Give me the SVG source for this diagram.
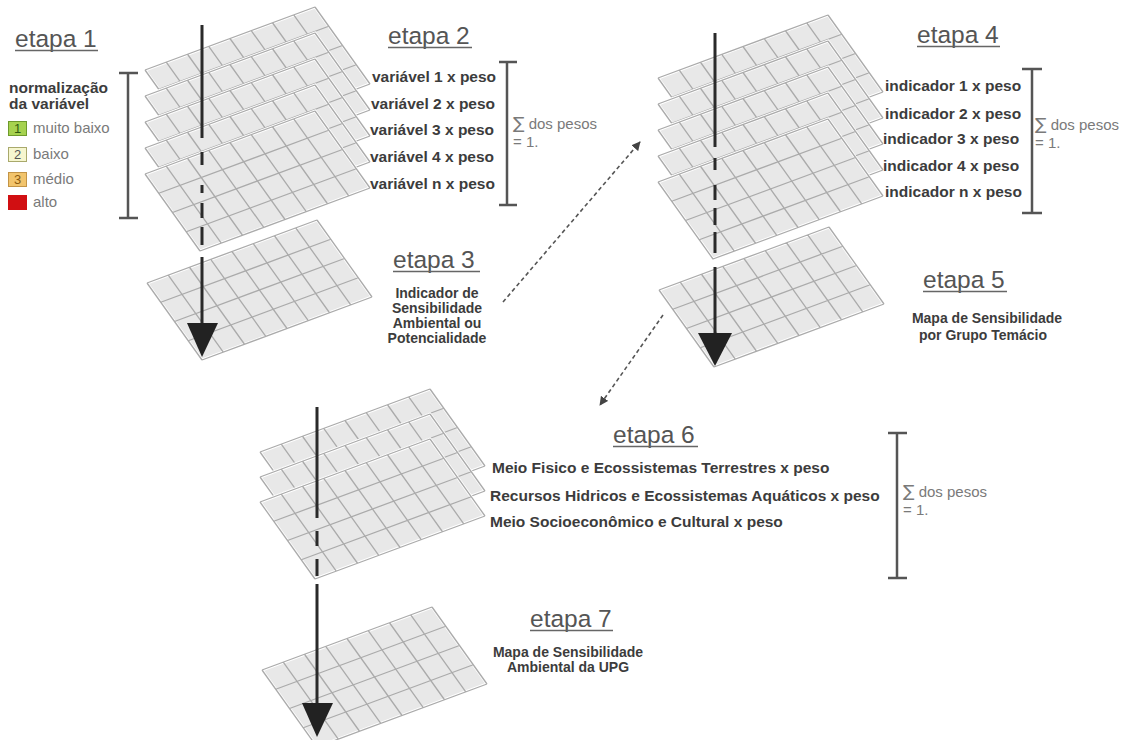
<svg xmlns="http://www.w3.org/2000/svg" width="1137" height="740" viewBox="0 0 1137 740">
<style>
.h{font-family:"Liberation Sans",Arial,sans-serif;font-size:24.5px;fill:#555}
.ul{stroke:#666;stroke-width:1.5}
.b{font-family:"Liberation Sans",Arial,sans-serif;font-size:15.5px;font-weight:bold;fill:#3c3c3c}
.c{font-family:"Liberation Sans",Arial,sans-serif;font-size:14px;font-weight:bold;fill:#3c3c3c;text-anchor:middle}
.r{font-family:"Liberation Sans",Arial,sans-serif;font-size:15px;fill:#7a7a7a}
.sg{font-family:"DejaVu Sans",sans-serif;font-size:17px}
.n{font-family:"Liberation Sans",Arial,sans-serif;font-size:13px;text-anchor:middle}
.br{stroke:#555;stroke-width:2.5;fill:none}
.ax{stroke:#2a2a2a;stroke-width:3;fill:none}
.tip{fill:#222}
.dl{stroke:#555;stroke-width:1.6;stroke-dasharray:4 3;fill:none}
</style>
<defs>
  <!-- one grid sheet: 8 x 4 cells in local units, skewed by each use -->
  <g id="sheet">
    <polygon points="0,0 8,0 8,4 0,4" fill="#e8e8e8" stroke="#fff" stroke-width="3" vector-effect="non-scaling-stroke"/>
    <path d="M0,0H8M0,1H8M0,2H8M0,3H8M0,4H8M0,0V4M1,0V4M2,0V4M3,0V4M4,0V4M5,0V4M6,0V4M7,0V4M8,0V4" fill="none" stroke="#ababab" stroke-width="1.3" vector-effect="non-scaling-stroke"/>
  </g>
  <marker id="ah" viewBox="0 0 10 10" refX="9" refY="5" markerWidth="9" markerHeight="9" markerUnits="userSpaceOnUse" orient="auto">
    <path d="M0,0L10,5L0,10z" fill="#444"/>
  </marker>
</defs>

<!-- etapa 1: legend -->
<g id="etapa1">
  <text class="h" x="15" y="47">etapa 1</text>
  <line class="ul" x1="15" y1="50.5" x2="98" y2="50.5"/>
  <text class="b" x="9" y="93">normalização</text>
  <text class="b" x="9" y="109">da variável</text>
  <rect x="8.5" y="121.5" width="18" height="14" fill="#a6d24f" stroke="#6e9a2c"/>
  <text class="n" x="17.5" y="133" fill="#2f5a10">1</text>
  <text class="r" x="33" y="133">muito baixo</text>
  <rect x="8.5" y="147.5" width="18" height="14" fill="#f6f6cf" stroke="#a9a96c"/>
  <text class="n" x="17.5" y="159" fill="#555">2</text>
  <text class="r" x="33" y="159">baixo</text>
  <rect x="8.5" y="172.5" width="18" height="14" fill="#f2c46c" stroke="#c39446"/>
  <text class="n" x="17.5" y="184" fill="#8a5a10">3</text>
  <text class="r" x="33" y="184">médio</text>
  <rect x="8" y="195" width="19" height="15" fill="#d10f12"/>
  <text class="r" x="33" y="207">alto</text>
  <path class="br" d="M128,73V218M119,73H138M119,218H138"/>
</g>

<!-- etapa 2 and 3: first stack -->
<g id="stack1">
  <use href="#sheet" transform="matrix(21.25,-7.875,13.75,19.25,145,70)"/>
  <use href="#sheet" transform="matrix(21.25,-7.875,13.75,19.25,145,96)"/>
  <use href="#sheet" transform="matrix(21.25,-7.875,13.75,19.25,145,122)"/>
  <use href="#sheet" transform="matrix(21.25,-7.875,13.75,19.25,145,148)"/>
  <use href="#sheet" transform="matrix(21.25,-7.875,13.75,19.25,145,174)"/>
  <use href="#sheet" transform="matrix(21.25,-7.875,13.75,19.25,147,283)"/>
</g>
<g id="etapa2">
  <text class="h" x="388" y="44">etapa 2</text>
  <line class="ul" x1="388" y1="47.5" x2="472" y2="47.5"/>
  <text class="b" x="372" y="82">variável 1 x peso</text>
  <text class="b" x="371" y="109">variável 2 x peso</text>
  <text class="b" x="370" y="135">variável 3 x peso</text>
  <text class="b" x="370" y="162">variável 4 x peso</text>
  <text class="b" x="370" y="189">variável n x peso</text>
  <path class="br" d="M507,62V205M499,62H517M499,205H517"/>
  <text class="r" x="513" y="129"><tspan class="sg">∑</tspan> dos pesos</text>
  <text class="r" x="513" y="147">= 1.</text>
</g>
<g id="etapa3">
  <text class="h" x="393" y="268">etapa 3</text>
  <line class="ul" x1="393" y1="271.5" x2="480" y2="271.5"/>
  <text class="c" x="437" y="298">Indicador de</text>
  <text class="c" x="437" y="313">Sensibilidade</text>
  <text class="c" x="437" y="328">Ambiental ou</text>
  <text class="c" x="437" y="343">Potencialidade</text>
</g>

<!-- etapa 4 and 5: second stack -->
<g id="stack2">
  <use href="#sheet" transform="matrix(21.25,-7.875,13.75,19.25,658,78)"/>
  <use href="#sheet" transform="matrix(21.25,-7.875,13.75,19.25,658,104)"/>
  <use href="#sheet" transform="matrix(21.25,-7.875,13.75,19.25,658,130)"/>
  <use href="#sheet" transform="matrix(21.25,-7.875,13.75,19.25,658,156)"/>
  <use href="#sheet" transform="matrix(21.25,-7.875,13.75,19.25,658,182)"/>
  <use href="#sheet" transform="matrix(21.25,-7.875,13.75,19.25,659,290)"/>
</g>
<g id="etapa4">
  <text class="h" x="917" y="43">etapa 4</text>
  <line class="ul" x1="917" y1="46.5" x2="1000" y2="46.5"/>
  <text class="b" x="885" y="91">indicador 1 x peso</text>
  <text class="b" x="885" y="119">indicador 2 x peso</text>
  <text class="b" x="883" y="144">indicador 3 x peso</text>
  <text class="b" x="883" y="171">indicador 4 x peso</text>
  <text class="b" x="885" y="197">indicador n x peso</text>
  <path class="br" d="M1032,69V213M1022,69H1042M1022,213H1042"/>
  <text class="r" x="1035" y="130"><tspan class="sg">∑</tspan> dos pesos</text>
  <text class="r" x="1035" y="148">= 1.</text>
</g>
<g id="etapa5">
  <text class="h" x="923" y="288">etapa 5</text>
  <line class="ul" x1="923" y1="291.5" x2="1007" y2="291.5"/>
  <text class="c" x="987" y="323">Mapa de Sensibilidade</text>
  <text class="c" x="983" y="340">por Grupo Temácio</text>
</g>

<!-- etapa 6: third stack -->
<g id="stack3">
  <use href="#sheet" transform="matrix(21.25,-7.875,13.75,19.25,260,452)"/>
  <use href="#sheet" transform="matrix(21.25,-7.875,13.75,19.25,260,477)"/>
  <use href="#sheet" transform="matrix(21.25,-7.875,13.75,19.25,260,502)"/>
</g>
<g id="etapa6">
  <text class="h" x="613" y="443">etapa 6</text>
  <line class="ul" x1="613" y1="446.5" x2="698" y2="446.5"/>
  <text class="b" x="492" y="473">Meio Fisico e Ecossistemas Terrestres x peso</text>
  <text class="b" x="490" y="501">Recursos Hidricos e Ecossistemas Aquáticos x peso</text>
  <text class="b" x="490" y="527">Meio Socioeconômico e Cultural x peso</text>
  <path class="br" d="M897,433V578M888,433H907M888,578H907"/>
  <text class="r" x="903" y="497"><tspan class="sg">∑</tspan> dos pesos</text>
  <text class="r" x="903" y="515">= 1.</text>
</g>

<!-- etapa 7: final map -->
<g id="stack4">
  <use href="#sheet" transform="matrix(21.25,-7.875,13.75,19.25,262,670)"/>
</g>
<g id="etapa7">
  <text class="h" x="530" y="627">etapa 7</text>
  <line class="ul" x1="530" y1="630.5" x2="613" y2="630.5"/>
  <text class="c" x="568" y="657">Mapa de Sensibilidade</text>
  <text class="c" x="568" y="672">Ambiental da UPG</text>
</g>

<!-- connectors: vertical arrows through each stack, dotted links between stages -->
<g id="connectors">
  <path class="ax" d="M202,25V138M202,152V165M202,185V193M202,203V218M202,227V245M202,257V325"/>
  <polygon class="tip" points="187,323 218,323 202,357"/>
  <path class="ax" d="M715,33V147M715,158V170M715,185V200M715,208V225M715,232V253M715,267V335"/>
  <polygon class="tip" points="698,333 732,333 715,366"/>
  <path class="ax" d="M317,407V518M317,531V546M317,559V576M317,584V705"/>
  <polygon class="tip" points="302,703 333,703 317,737"/>
  <line class="dl" x1="503" y1="302" x2="640" y2="142" marker-end="url(#ah)"/>
  <line class="dl" x1="663" y1="315" x2="600" y2="405" marker-end="url(#ah)"/>
</g>
</svg>
